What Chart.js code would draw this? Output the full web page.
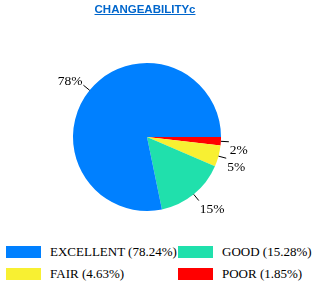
<!DOCTYPE html>
<html>
<head>
<meta charset="utf-8">
<script src="https://cdn.jsdelivr.net/npm/chart.js@4"></script>
<style>
  body { margin: 0; background: #fff; }
  #wrap { position: relative; width: 313px; height: 293px; overflow: hidden; }
  #title { position: absolute; left: 0; width: 290px; top: 3px; text-align: center;
           font: bold 11.5px "Liberation Sans", Arial, sans-serif; color: #0066CC; text-decoration: underline; }
  #pie { position: absolute; left: 0; top: 0; }
  .item { position: absolute; font: 13px "Liberation Serif", "Times New Roman", serif; color: #000;
          line-height: 14px; white-space: nowrap; }
  .sw { position: absolute; width: 35px; height: 12px; }
</style>
</head>
<body>
<div id="wrap">
  <canvas id="pie" width="313" height="235"></canvas>
  <div id="title">CHANGEABILITYc</div>
  <div id="legend"></div>
</div>
<script>
// pie order runs clockwise from 3 o'clock
const categories = ['POOR', 'FAIR', 'GOOD', 'EXCELLENT']
const values = [1.85, 4.63, 15.28, 78.24]
const colors = ['#FF0000', '#F8F032', '#20E0AC', '#0080FF']
const sliceLabels = ['2%', '5%', '15%', '78%']
// legend reads in a different order
const legendOrder = ['EXCELLENT', 'GOOD', 'FAIR', 'POOR']

// draws the % labels outside with short leader lines
const outsideLabels = {
    id: 'outsideLabels',
    afterDatasetsDraw(chart) {
        const ctx = chart.ctx
        const meta = chart.getDatasetMeta(0)
        ctx.save()
        ctx.strokeStyle = '#000'
        ctx.lineWidth = 1
        ctx.fillStyle = '#000'
        ctx.font = '13.5px "Liberation Serif", "Times New Roman", serif'
        meta.data.forEach((arc, i) => {
            const p = arc.getProps(['x', 'y', 'startAngle', 'endAngle', 'outerRadius'], true)
            const mid = (p.startAngle + p.endAngle) / 2
            const c = Math.cos(mid), s = Math.sin(mid)
            const x1 = p.x + c * p.outerRadius, y1 = p.y + s * p.outerRadius
            const x2 = p.x + c * (p.outerRadius + 8), y2 = p.y + s * (p.outerRadius + 8)
            ctx.beginPath()
            ctx.moveTo(x1, y1)
            ctx.lineTo(x2, y2)
            ctx.stroke()
            ctx.textAlign = c >= 0 ? 'left' : 'right'
            ctx.textBaseline = s >= 0 ? 'top' : 'bottom'
            ctx.fillText(sliceLabels[i], x2 + (c >= 0 ? 1 : -1), y2 + (s >= 0 ? 2 : 3))
        })
        ctx.restore()
    }
}

new Chart(document.getElementById('pie'), {
    type: 'pie',
    data: {
        labels: categories,
        datasets: [{
            data: values,
            backgroundColor: colors,
            borderWidth: 0
        }]
    },
    options: {
        responsive: false,
        animation: false,
        rotation: 90,
        layout: { padding: { left: 73, right: 92, top: 63, bottom: 24 } },
        plugins: { legend: { display: false }, tooltip: { enabled: false } }
    },
    plugins: [outsideLabels]
})

// html legend, two columns
const legend = document.getElementById('legend')
legendOrder.forEach((name, k) => {
    const i = categories.indexOf(name)
    const col = k % 2, row = Math.floor(k / 2)
    const sw = document.createElement('div')
    sw.className = 'sw'
    sw.style.left = (6 + col * 172) + 'px'
    sw.style.top = (246 + row * 22) + 'px'
    sw.style.background = colors[i]
    legend.appendChild(sw)
    const t = document.createElement('div')
    t.className = 'item'
    t.style.left = (50 + col * 172) + 'px'
    t.style.top = (245 + row * 22) + 'px'
    t.textContent = `${name} (${values[i].toFixed(2)}%)`
    legend.appendChild(t)
})
</script>
</body>
</html>
